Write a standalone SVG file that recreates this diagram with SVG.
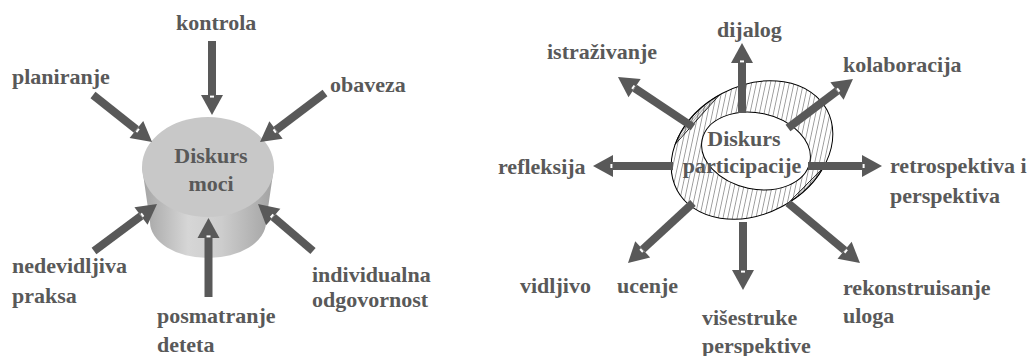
<svg xmlns="http://www.w3.org/2000/svg" width="1031" height="356" viewBox="0 0 1031 356">
<style>
text{font-weight:bold;font-size:22px;fill:#595959}
.sh{stroke:#595959;stroke-width:8;fill:none;marker-end:url(#ah)}
</style>
<defs>
<marker id="ah" markerUnits="userSpaceOnUse" markerWidth="22" markerHeight="24" viewBox="0 -12 22 24" refX="0" refY="0" orient="auto" overflow="visible">
<path d="M0,-11 L20,0 L0,11 Z" fill="#595959"/>
<rect x="0.6" y="-2" width="2" height="4" fill="#ffffff"/>
</marker>
<linearGradient id="body" x1="0" y1="0" x2="1" y2="0">
<stop offset="0" stop-color="#a4a4a4"/>
<stop offset="0.35" stop-color="#d6d6d6"/>
<stop offset="0.6" stop-color="#cdcdcd"/>
<stop offset="1" stop-color="#a2a2a2"/>
</linearGradient>
<pattern id="hatch" patternUnits="userSpaceOnUse" width="4.6" height="10" patternTransform="rotate(40)">
<line x1="0" y1="-1" x2="0" y2="11" stroke="#000" stroke-width="0.75"/>
</pattern>
<pattern id="dense" patternUnits="userSpaceOnUse" width="1.8" height="10" patternTransform="rotate(40)">
<line x1="0" y1="-1" x2="0" y2="11" stroke="#000" stroke-width="0.7"/>
</pattern>
</defs>

<g font-family="'Liberation Serif', 'DejaVu Serif', serif">
<g id="node-diskurs-moci">
<path d="M142,167 L150,222 A58 36 0 0 0 266,222 L274,167 Z" fill="url(#body)"/>
<ellipse cx="208" cy="167" rx="66" ry="50" fill="#c8c8c8"/>
<text x="211" y="163" text-anchor="middle">Diskurs</text>
<text x="211" y="191" text-anchor="middle">moci</text>
</g>

<g id="node-diskurs-participacije">
<ellipse cx="752" cy="150" rx="85" ry="64" transform="rotate(-28 752 150)" fill="url(#hatch)" stroke="#000" stroke-width="1"/>
<path d="M675.2,144.3 A85 64 -28 0 1 719.4,95 Z" fill="url(#dense)" stroke="#000" stroke-width="0.8"/>
<path d="M823.3,167.6 A85 64 -28 0 1 788.4,202.8 Z" fill="url(#dense)" stroke="#000" stroke-width="0.8"/>
<ellipse cx="756" cy="151" rx="55" ry="38" transform="rotate(12 756 151)" fill="#fff" stroke="#000" stroke-width="1"/>
</g>

<g id="connectors">
<line class="sh" x1="212" y1="41" x2="212" y2="95"/>
<line class="sh" x1="93" y1="95" x2="136.4" y2="129.5"/>
<line class="sh" x1="325" y1="93" x2="276" y2="130"/>
<line class="sh" x1="94" y1="251" x2="141" y2="216"/>
<line class="sh" x1="208.5" y1="297" x2="208.5" y2="238"/>
<line class="sh" x1="313" y1="251" x2="273.2" y2="217"/>

<line class="sh" x1="742" y1="113" x2="742" y2="63"/>
<line class="sh" x1="693" y1="127" x2="634.6" y2="88.1"/>
<line class="sh" x1="788" y1="128" x2="837" y2="91"/>
<line class="sh" x1="673" y1="166" x2="613" y2="166"/>
<line class="sh" x1="808" y1="166" x2="862" y2="166"/>
<line class="sh" x1="693" y1="203" x2="642.7" y2="249.4"/>
<line class="sh" x1="743" y1="222" x2="743" y2="270"/>
<line class="sh" x1="788" y1="203" x2="844.6" y2="250.2"/>
</g>

<g id="label-participacije">
<text x="744" y="146" text-anchor="middle">Diskurs</text>
<text x="742" y="173" text-anchor="middle">participacije</text>
</g>

<g id="labels-left">
<text x="176" y="30">kontrola</text>
<text x="12" y="84">planiranje</text>
<text x="330" y="92">obaveza</text>
<text x="12" y="273">nedevidljiva</text>
<text x="12" y="303">praksa</text>
<text x="157" y="323">posmatranje</text>
<text x="157" y="352">deteta</text>
<text x="312" y="282">individualna</text>
<text x="312" y="307">odgovornost</text>
</g>

<g id="labels-right">
<text x="717" y="37">dijalog</text>
<text x="547" y="59">istraživanje</text>
<text x="843" y="72">kolaboracija</text>
<text x="498" y="174">refleksija</text>
<text x="890" y="173">retrospektiva i</text>
<text x="890" y="203">perspektiva</text>
<text x="520" y="293">vidljivo</text>
<text x="617" y="293">ucenje</text>
<text x="702" y="325">višestruke</text>
<text x="702" y="353">perspektive</text>
<text x="843" y="295">rekonstruisanje</text>
<text x="843" y="323">uloga</text>
</g>
</g>
</svg>
